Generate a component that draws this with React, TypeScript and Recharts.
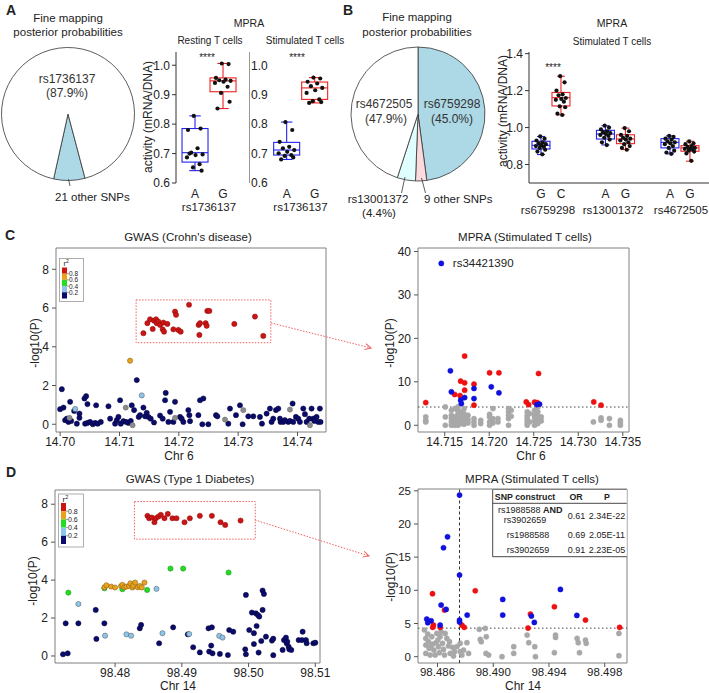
import React from "react";
import {
  ComposedChart,
  ScatterChart,
  PieChart,
  Pie,
  Cell,
  Bar,
  Scatter,
  XAxis,
  YAxis,
  ReferenceArea,
  ReferenceLine,
  LabelList,
} from "recharts";

const FONT = '"Liberation Sans", Arial, Helvetica, sans-serif';
const INK = "#222";

// ---------- A: fine mapping pie ----------
const PIE_A_NAMES = ["21 other SNPs", "rs1736137"];
const PIE_A_VALUES = [7.6, 92.4];
const PIE_A_COLORS = ["#add8e6", "#ffffff"];

// ---------- B: fine mapping pie (clockwise from 12 o'clock) ----------
const PIE_B_NAMES = ["rs6759298", "9 other SNPs", "rs13001372", "rs4672505"];
const PIE_B_VALUES = [47.9, 2.7, 4.4, 45.0];
const PIE_B_COLORS = ["#add8e6", "#fadadd", "#e0ffff", "#ffffff"];

// ---------- A: MPRA boxplots, stats = [min, q1, median, q3, max] ----------
const A_ALLELES = ["A", "G"];
const A_SNP = "rs1736137";
const A_REST_STATS_A = [0.642, 0.671, 0.703, 0.785, 0.828];
const A_REST_STATS_G = [0.853, 0.91, 0.947, 0.957, 1.006];
const A_REST_PTS_A = [0.828, 0.785, 0.78, 0.718, 0.703, 0.697, 0.695, 0.687, 0.664, 0.653, 0.642, 0.7];
const A_REST_PTS_G = [1.006, 1.004, 0.957, 0.951, 0.949, 0.947, 0.944, 0.94, 0.927, 0.906, 0.876, 0.853];
const A_STIM_STATS_A = [0.68, 0.695, 0.712, 0.738, 0.807];
const A_STIM_STATS_G = [0.872, 0.884, 0.923, 0.943, 0.958];
const A_STIM_PTS_A = [0.807, 0.78, 0.74, 0.723, 0.718, 0.712, 0.706, 0.701, 0.695, 0.692, 0.687, 0.68];
const A_STIM_PTS_G = [0.958, 0.955, 0.944, 0.938, 0.929, 0.923, 0.915, 0.906, 0.884, 0.878, 0.875, 0.872];

// ---------- B: MPRA boxplots ----------
const B_SNPS = ["rs6759298", "rs13001372", "rs4672505"];
const B_ALLELES = ["G", "C", "A", "G", "A", "G"];
const B_STATS = [
  [0.854, 0.884, 0.904, 0.926, 0.952],
  [1.069, 1.117, 1.162, 1.19, 1.278],
  [0.906, 0.938, 0.965, 0.985, 1.01],
  [0.881, 0.913, 0.938, 0.961, 0.997],
  [0.858, 0.89, 0.92, 0.94, 0.955],
  [0.818, 0.872, 0.89, 0.902, 0.926],
];
const B_PTS = [
  [0.952, 0.94, 0.93, 0.92, 0.915, 0.91, 0.905, 0.9, 0.895, 0.89, 0.88, 0.87, 0.855],
  [1.278, 1.245, 1.2, 1.18, 1.175, 1.16, 1.155, 1.15, 1.14, 1.115, 1.11, 1.075, 1.068],
  [1.01, 1.0, 0.99, 0.98, 0.975, 0.97, 0.965, 0.96, 0.955, 0.945, 0.935, 0.92, 0.905],
  [0.997, 0.98, 0.96, 0.955, 0.945, 0.94, 0.935, 0.93, 0.92, 0.91, 0.9, 0.89, 0.88],
  [0.955, 0.95, 0.94, 0.935, 0.925, 0.92, 0.915, 0.91, 0.9, 0.89, 0.875, 0.865, 0.858],
  [0.925, 0.915, 0.91, 0.9, 0.895, 0.89, 0.885, 0.885, 0.88, 0.875, 0.87, 0.86, 0.82],
];
const B_POS = [0.845, 1.155, 1.845, 2.155, 2.845, 3.155];

// horizontal jitter of the dots, as a fraction of box width
const JITTER = [-0.05, 0.22, -0.28, 0.1, -0.15, 0.3, 0.02, -0.32, 0.18, -0.08, 0.26, -0.22, 0.08];

// ---------- C: GWAS Crohn's disease (x = Mb on chr 6, y = -log10 P) ----------
const C_RED: [number, number][] = [
  [14.71403, 4.7], [14.7147, 5.22], [14.71515, 5.42], [14.7156, 4.92], [14.71582, 5.35], [14.71616, 5.42],
  [14.71627, 5.22], [14.71655, 5.3], [14.71684, 5.13], [14.71728, 4.9], [14.7174, 5.25], [14.71751, 4.78],
  [14.71807, 5.18], [14.71908, 4.9], [14.71936, 5.82], [14.71953, 5.65], [14.71992, 4.87], [14.72031, 4.78],
  [14.72172, 6.17], [14.72334, 5.13], [14.72346, 4.61], [14.72357, 5.22], [14.72452, 5.22], [14.72469, 5.08],
  [14.7248, 5.85], [14.72514, 5.85], [14.72935, 5.18], [14.73283, 5.56], [14.73423, 4.56],
];
const C_ORANGE: [number, number][] = [[14.71178, 3.28]];
const C_LIGHT: [number, number][] = [[14.71375, 1.49], [14.70253, 0.79]];
const C_GRAY: [number, number][] = [
  [14.70157, 0.33], [14.71105, 0.86], [14.7122, -0.05], [14.71936, 0.33], [14.72778, 0.24],
  [14.73086, 0.73], [14.73872, 0.76], [14.74209, -0.05],
];
const C_NAVY: [number, number][] = [
  [14.70028, 1.81], [14.7, 0.78], [14.70056, 0.86], [14.70084, 0.21], [14.70112, 0.29], [14.7014, 0.12],
  [14.70185, 0.17], [14.70168, 1.16], [14.70236, 0.69], [14.70281, 0.03], [14.70325, 0.33], [14.70325, 0.55],
  [14.7041, 1.33], [14.70438, 1.45], [14.7046, 1.04], [14.70421, 0.03], [14.7046, 0.07], [14.70505, 0.12],
  [14.7055, 0.0], [14.70589, 0.07], [14.70606, 0.98], [14.70634, 0.03], [14.70685, 0.12], [14.70814, 0.93],
  [14.70842, 0.29], [14.70926, 0.03], [14.70954, 0.21], [14.70982, 0.38], [14.7101, 1.24], [14.71021, 0.03],
  [14.71066, 0.16], [14.71111, 0.12], [14.7115, 0.07], [14.7119, 0.17], [14.71207, 0.98], [14.71246, 0.73],
  [14.71291, 2.28], [14.71324, 0.38], [14.71347, 0.47], [14.71403, 0.86], [14.71431, 0.41], [14.71459, 0.59],
  [14.71487, 0.38], [14.71526, 0.29], [14.71582, 0.09], [14.71684, 0.45], [14.71728, 0.29], [14.71768, 1.24],
  [14.71779, 1.62], [14.71824, 0.12], [14.71852, 0.64], [14.71908, 0.12], [14.71936, 1.16], [14.7202, 0.38],
  [14.72048, 0.29], [14.72076, 0.12], [14.7216, 0.73], [14.72177, 0.47], [14.72189, 0.16], [14.72357, 1.24],
  [14.72413, 1.33], [14.72329, 0.47], [14.72396, 0.0], [14.72497, 0.0], [14.72626, 0.47], [14.72649, 0.41],
  [14.72834, 0.03], [14.72862, 0.81], [14.72963, 0.47], [14.7303, 0.98], [14.73075, 0.0], [14.73171, 0.41],
  [14.73255, 0.41], [14.73367, 0.38], [14.73401, 0.03], [14.73479, 0.55], [14.73535, 0.81], [14.73563, 0.12],
  [14.73591, 0.29], [14.73636, 0.73], [14.73676, 0.81], [14.73704, 0.29], [14.73715, 0.12], [14.7376, 0.12],
  [14.73788, 0.21], [14.73844, 0.12], [14.73872, 0.17], [14.73917, 1.07], [14.73928, 0.12], [14.73973, 0.38],
  [14.74012, 0.29], [14.7404, 0.12], [14.74097, 0.81], [14.74125, 0.52], [14.74153, 0.12], [14.74198, 0.29],
  [14.74237, 0.81], [14.74265, 0.29], [14.74282, 0.17], [14.74321, 0.38], [14.74349, 0.12], [14.74377, 0.81],
  [14.74388, 0.12],
];

// ---------- C: MPRA stimulated T cells, chr 6 ----------
const CM_RED: [number, number][] = [
  [14.71287, 5.23], [14.71612, 7.08], [14.71672, 6.85], [14.71679, 10.15], [14.71724, 9.77], [14.71724, 8.08],
  [14.71724, 15.92], [14.71829, 9.46], [14.71829, 4.62], [14.72004, 12.08], [14.72109, 12.08], [14.72416, 5.38],
  [14.72442, 4.77], [14.72509, 5.31], [14.72539, 5.23], [14.72554, 11.92], [14.73174, 5.38], [14.73256, 4.62],
];
const CM_BLUE: [number, number][] = [
  [14.71564, 12.54], [14.71575, 7.69], [14.71679, 5.77], [14.71687, 5.0], [14.71724, 6.38], [14.71829, 8.46],
  [14.71829, 6.15], [14.72023, 8.85], [14.72109, 7.46], [14.72535, 4.77], [14.72565, 4.85],
];
const CM_TOP_SNP = "rs34421390";
const CM_TOP: [number, number] = [14.71724, 37.6];
const CM_GRAY: [number, number][] = [
  [14.71287, 1.92], [14.71287, 1.15], [14.71287, 0.77],
  [14.71507, 4.23], [14.71507, 1.92], [14.71507, 0.0],
  [14.71575, 3.46], [14.71575, 2.31], [14.71575, 1.54], [14.71575, 0.77], [14.71575, 0.0],
  [14.71612, 3.85], [14.71612, 1.92], [14.71612, 1.15], [14.71612, 0.38], [14.71612, 0.0],
  [14.71649, 4.23], [14.71649, 3.31], [14.71649, 2.54], [14.71649, 1.54], [14.71649, 0.77], [14.71649, 0.0],
  [14.71679, 3.08], [14.71679, 2.08], [14.71679, 1.15], [14.71679, 0.38],
  [14.71717, 3.85], [14.71717, 2.69], [14.71717, 1.77], [14.71717, 1.0], [14.71717, 0.23],
  [14.71762, 2.31], [14.71762, 1.31], [14.71762, 0.54],
  [14.71829, 1.54], [14.71829, 0.77], [14.71829, 0.0],
  [14.71904, 1.15], [14.71904, 0.38],
  [14.72004, 2.54], [14.72004, 1.92], [14.72004, 0.77], [14.72004, 0.0],
  [14.72042, 3.85], [14.72042, 1.54], [14.72042, 0.54],
  [14.72098, 1.54], [14.72098, 0.77],
  [14.72217, 3.85], [14.72217, 3.08], [14.72217, 2.31], [14.72217, 1.54], [14.72217, 0.0],
  [14.72247, 3.46], [14.72247, 2.08],
  [14.72427, 3.08], [14.72427, 2.31], [14.72427, 1.69], [14.72427, 1.15], [14.72427, 0.54], [14.72427, 0.0],
  [14.72453, 2.69], [14.72453, 0.77],
  [14.72509, 3.46], [14.72509, 2.54], [14.72509, 1.92], [14.72509, 1.0], [14.72509, 0.0],
  [14.72546, 4.23], [14.72546, 3.08], [14.72546, 2.08], [14.72546, 1.31], [14.72546, 0.38],
  [14.72584, 1.92], [14.72584, 1.0],
  [14.7317, 0.77], [14.73256, 1.69], [14.73256, 1.15], [14.7335, 1.54], [14.7335, 0.0],
  [14.73473, 1.15], [14.73473, 0.54], [14.73473, 0.0],
];

// ---------- D: GWAS type 1 diabetes, chr 14 ----------
const D_RED: [number, number][] = [
  [98.48485, 7.39], [98.4851, 7.26], [98.4855, 7.3], [98.4859, 7.05], [98.4861, 7.26], [98.4865, 7.35],
  [98.48685, 7.44], [98.4874, 7.26], [98.4879, 7.49], [98.4886, 7.26], [98.4892, 7.26], [98.4904, 7.05],
  [98.4912, 7.26], [98.4927, 7.39], [98.4945, 7.39], [98.4958, 7.05], [98.4965, 6.91], [98.4988, 7.14],
];
const D_ORANGE: [number, number][] = [
  [98.4784, 3.62], [98.4787, 3.73], [98.4794, 3.66], [98.48, 3.61], [98.4809, 3.69], [98.4811, 3.75],
  [98.4814, 3.62], [98.4817, 3.66], [98.4821, 3.69], [98.4823, 3.83], [98.4826, 3.61], [98.4827, 3.71],
  [98.483, 3.87], [98.4834, 3.62], [98.4837, 3.69], [98.484, 3.61], [98.4844, 3.87],
];
const D_GREEN: [number, number][] = [
  [98.473, 3.34], [98.4784, 3.57], [98.4811, 3.52], [98.4848, 3.48], [98.4883, 4.61], [98.4902, 4.61], [98.497, 4.4],
];
const D_LIGHT: [number, number][] = [
  [98.4745, 2.74], [98.4785, 1.07], [98.4817, 1.14], [98.4824, 1.07], [98.4862, 3.54], [98.4871, 1.2],
  [98.4911, 1.16], [98.4956, 1.06], [98.4961, 0.97],
];
const D_NAVY: [number, number][] = [
  [98.4722, 0.09], [98.4729, 0.14], [98.4726, 1.72], [98.4745, 1.72], [98.4771, 2.43], [98.4772, 0.9],
  [98.4784, 1.72], [98.4837, 1.46], [98.4839, 1.64], [98.4866, 0.67], [98.4887, 1.51], [98.4909, 1.14],
  [98.4917, 0.46], [98.4927, 0.19], [98.494, 1.46], [98.4945, 1.51], [98.4941, 0.23], [98.4944, 0.55],
  [98.4946, 0.14], [98.4957, 0.11], [98.4969, 0.05], [98.4971, 1.37], [98.4977, 1.28], [98.4996, 3.22],
  [98.4995, 0.35], [98.4996, 0.09], [98.5001, 1.37], [98.5005, 2.29], [98.5008, 1.2], [98.5008, 0.63],
  [98.5011, 2.25], [98.5014, 2.16], [98.5016, 2.08], [98.5012, 1.58], [98.5015, 0.18], [98.5019, 0.79],
  [98.5021, 2.43], [98.5021, 3.45], [98.5023, 3.27], [98.5026, 1.02], [98.5035, 0.81], [98.5037, 0.91],
  [98.5037, 0.04], [98.5051, 0.32], [98.5053, 0.84], [98.5056, 0.97], [98.5057, 0.67], [98.5058, 0.76],
  [98.506, 0.49], [98.5061, 0.35], [98.5064, 0.32], [98.5075, 0.84], [98.508, 0.84], [98.5081, 1.28],
  [98.5086, 0.84], [98.5087, 0.67], [98.5097, 0.67], [98.51, 0.7],
];

// ---------- D: MPRA stimulated T cells, chr 14 ----------
const DM_BLUE: [number, number][] = [
  [98.48758, 24.35], [98.48672, 18.07], [98.48643, 16.42], [98.48758, 12.3], [98.48626, 7.78], [98.48662, 7.13],
  [98.48523, 5.67], [98.48554, 5.42], [98.4853, 5.12], [98.48619, 4.77], [98.48758, 5.52], [98.48758, 5.22],
  [98.48813, 6.27], [98.49068, 8.63], [98.49068, 6.27], [98.49274, 6.12], [98.49295, 5.17], [98.49482, 10.14],
  [98.496, 6.22],
];
const DM_RED: [number, number][] = [
  [98.48564, 9.49], [98.48871, 9.94], [98.4865, 7.03], [98.48571, 4.77], [98.48566, 4.42], [98.48619, 4.42],
  [98.48775, 4.77], [98.48792, 4.42], [98.49267, 6.43], [98.4925, 4.32], [98.49439, 7.53], [98.49662, 5.52],
  [98.49907, 4.42],
];
const DM_GRAY: [number, number][] = [
  [98.48506, 4.02], [98.48516, 2.76], [98.48516, 1.76], [98.48516, 0.5], [98.48535, 2.26], [98.4854, 1.26],
  [98.48547, 0.25], [98.48559, 3.01], [98.48566, 1.91], [98.48574, 1.0], [98.48583, 0.25], [98.48595, 3.51],
  [98.48602, 2.51], [98.48607, 1.51], [98.48614, 0.6], [98.48626, 3.77], [98.48636, 2.01], [98.48643, 1.1],
  [98.4865, 0.25], [98.48667, 2.76], [98.48679, 1.61], [98.48691, 0.5], [98.48708, 1.41], [98.48722, 0.75],
  [98.4853, 3.41], [98.48554, 1.61], [98.4859, 2.11], [98.48619, 3.01], [98.48655, 3.51], [98.48686, 2.26],
  [98.48715, 0.1], [98.48739, 1.51], [98.48787, 1.0],
  [98.48763, 2.01], [98.48763, 0.75], [98.48775, 0.25], [98.48811, 2.11], [98.48823, 0.5], [98.489, 4.12],
  [98.48907, 2.61], [98.48914, 2.26], [98.48943, 4.27], [98.4895, 3.01], [98.48948, 0.5], [98.48967, 0.25],
  [98.49063, 0.0], [98.49147, 1.51], [98.49147, 0.5], [98.49243, 3.26], [98.49255, 2.11], [98.49298, 1.51],
  [98.49303, 0.0], [98.49447, 3.26], [98.49447, 2.91], [98.49439, 0.6], [98.49602, 2.76], [98.4961, 2.11],
  [98.49662, 2.51], [98.49667, 2.01], [98.49619, 0.6], [98.49902, 3.51], [98.49902, 0.15],
];

const TABLE_HEAD = ["SNP construct", "OR", "P"];
const TABLE_OR = ["0.61", "0.69", "0.91"];
const TABLE_P = ["2.34E-22", "2.05E-11", "2.23E-05"];

// ---------- colours ----------
const BOX_BLUE = "#2222ee";
const BOX_RED = "#ee2222";
const NAVY = "#0b0b6b";
const G_RED = "#cc1414";
const ORANGE = "#e8a21f";
const GREEN = "#22dd22";
const LIGHT = "#8cc4ea";
const GRAY = "#8c8c8c";
const M_RED = "#ee1111";
const M_BLUE = "#1111dd";
const M_GRAY = "#a8a8a8";

const blackDot = (p: any) => <circle cx={p.cx} cy={p.cy} r={2.1} fill="#111" />;

const dot = (fill: string, stroke: string, r = 2.6) => (p: any) =>
  <circle cx={p.cx} cy={p.cy} r={r} fill={fill} stroke={stroke} strokeWidth={0.5} />;

// whiskers, box and median drawn around the [min, max] range bar
const makeBoxShape = (boxW: number) => (props: any) => {
  const { x, y, width, height, payload } = props;
  const [lo, q1, med, q3, hi] = payload.stats;
  const top = Math.min(y, y + height);
  const k = Math.abs(height) / (hi - lo);
  const py = (v: number) => top + (hi - v) * k;
  const cx = x + width / 2;
  const bx = cx - boxW / 2;
  const cap = boxW * 0.22;
  const c = payload.color;
  return (
    <g stroke={c} strokeWidth={1.1}>
      <line x1={cx} x2={cx} y1={py(hi)} y2={py(q3)} />
      <line x1={cx} x2={cx} y1={py(q1)} y2={py(lo)} />
      <line x1={cx - cap} x2={cx + cap} y1={py(hi)} y2={py(hi)} />
      <line x1={cx - cap} x2={cx + cap} y1={py(lo)} y2={py(lo)} />
      <rect x={bx} y={py(q3)} width={boxW} height={py(q1) - py(q3)} fill="#fff" />
      <line x1={bx} x2={bx + boxW} y1={py(med)} y2={py(med)} />
    </g>
  );
};

type Box = { pos: number; stats: number[]; color: string; pts: number[] };

const PAD_TOP = 8;

function BoxPanel(p: {
  left: number; top: number; width: number; plotH: number; yW: number;
  boxes: Box[]; xDomain: [number, number]; yDomain: [number, number]; yTicks: number[];
  alleleTicks: number[]; alleleLabels: string[];
  boxW: number; jitter: number; mirror?: boolean; xLine?: boolean;
}) {
  const rows = p.boxes.map((b) => ({ pos: b.pos, range: [b.stats[0], b.stats[4]], stats: b.stats, color: b.color }));
  const pts = p.boxes.flatMap((b) =>
    b.pts.map((v, i) => ({ pos: b.pos + JITTER[i % JITTER.length] * p.jitter, val: v }))
  );
  return (
    <div style={{ position: "absolute", left: p.left, top: p.top - PAD_TOP }}>
      <ComposedChart
        width={p.width} height={p.plotH + PAD_TOP + 20} data={rows}
        margin={{ top: PAD_TOP, right: 0, bottom: 0, left: 0 }}
      >
        <XAxis
          type="number" dataKey="pos" domain={p.xDomain} allowDataOverflow
          ticks={p.alleleTicks} interval={0} tickFormatter={(_: any, i: number) => p.alleleLabels[i]}
          axisLine={p.xLine ? { stroke: "#333" } : false} tickLine={false} tickSize={4} tickMargin={2}
          height={20} tick={{ fontSize: 12, fill: INK, fontFamily: FONT }}
        />
        <YAxis
          type="number" domain={p.yDomain} allowDataOverflow ticks={p.yTicks} interval={0}
          tickFormatter={(v: number) => v.toFixed(1)} width={p.yW} mirror={p.mirror}
          axisLine={{ stroke: "#333" }} tickLine={p.mirror ? false : { stroke: "#333" }}
          tickSize={p.mirror ? 0 : 4} tickMargin={2} tick={{ fontSize: 12, fill: INK, fontFamily: FONT }}
        />
        <Bar dataKey="range" barSize={p.boxW} shape={makeBoxShape(p.boxW)} isAnimationActive={false} />
        <Scatter data={pts} dataKey="val" shape={blackDot} isAnimationActive={false} />
      </ComposedChart>
    </div>
  );
}

type Series = { pts: [number, number][]; fill: string; stroke: string };

const SC_MARGIN = { top: PAD_TOP, right: 16, bottom: 0, left: 0 };

function ScatterPanel(p: {
  left: number; top: number; width: number; height: number;
  xDomain: [number, number]; yDomain: [number, number]; xTicks: number[]; yTicks: number[];
  xDec: number; fs: number; series: Series[]; extra?: React.ReactNode[];
}) {
  return (
    <div style={{ position: "absolute", left: p.left, top: p.top - PAD_TOP }}>
      <ScatterChart width={p.width + 16} height={p.height + PAD_TOP} margin={SC_MARGIN}>
        <XAxis
          type="number" dataKey="x" domain={p.xDomain} allowDataOverflow ticks={p.xTicks} interval={0}
          tickFormatter={(v: number) => v.toFixed(p.xDec)} axisLine={false} tickLine={{ stroke: "#555" }}
          tickSize={4} tickMargin={1} height={20} tick={{ fontSize: p.fs, fill: INK, fontFamily: FONT }}
        />
        <YAxis
          type="number" dataKey="y" domain={p.yDomain} allowDataOverflow ticks={p.yTicks} interval={0}
          axisLine={false} tickLine={{ stroke: "#555" }} tickSize={4} tickMargin={3} width={30}
          tick={{ fontSize: p.fs, fill: INK, fontFamily: FONT }}
        />
        <ReferenceArea
          x1={p.xDomain[0]} x2={p.xDomain[1]} y1={p.yDomain[0]} y2={p.yDomain[1]}
          fill="none" stroke="#808080" strokeWidth={1} ifOverflow="visible"
        />
        {p.extra}
        {p.series.map((s, i) => (
          <Scatter
            key={i}
            data={s.pts.map(([x, y]) => ({ x, y }))}
            shape={dot(s.fill, s.stroke)}
            isAnimationActive={false}
          />
        ))}
      </ScatterChart>
    </div>
  );
}

function T(props: {
  x: number; y: number; s?: number; a?: "start" | "middle" | "end"; b?: boolean; r?: boolean; c?: string;
  children: React.ReactNode;
}) {
  const { x, y, s = 11.5, a = "middle", b, r, c = INK } = props;
  return (
    <text
      x={x} y={y} fontSize={s} textAnchor={a} dominantBaseline="central" fontWeight={b ? "bold" : "normal"}
      fill={c} fontFamily={FONT} transform={r ? `rotate(-90 ${x} ${y})` : undefined}
    >
      {props.children}
    </text>
  );
}

const R2_COLORS = [G_RED, ORANGE, GREEN, LIGHT, NAVY];
const R2_LABELS = ["0.8", "0.6", "0.4", "0.2"];

function R2Legend({ x, y, w, h, sq, fs }: { x: number; y: number; w: number; h: number; sq: number; fs: number }) {
  const y0 = y + h - 5 * sq - 3;
  return (
    <g>
      <rect x={x} y={y} width={w} height={h} fill="#fff" stroke="#999" strokeWidth={0.8} />
      <text x={x + 4} y={y0 - 1.5} fontSize={fs + 1} fontFamily={FONT} fill={INK}>
        r<tspan dy={-3} fontSize={fs - 1.5}>2</tspan>
      </text>
      {R2_COLORS.map((c, i) => (
        <rect key={c} x={x + 2.5} y={y0 + i * sq} width={5} height={sq} fill={c} />
      ))}
      {R2_LABELS.map((l, i) => (
        <g key={l}>
          <line x1={x + 7.5} x2={x + 9.5} y1={y0 + (i + 1) * sq} y2={y0 + (i + 1) * sq} stroke="#555" strokeWidth={0.6} />
          <T x={x + 9.5} y={y0 + (i + 1) * sq} s={fs} a="start">{l}</T>
        </g>
      ))}
    </g>
  );
}

function Overlay() {
  return (
    <svg width={709} height={693} style={{ position: "absolute", left: 0, top: 0, pointerEvents: "none" }}>
      <defs>
        <marker id="ah" markerWidth="7" markerHeight="7" refX="6" refY="3.5" orient="auto">
          <path d="M0,0.5 L6,3.5 L0,6.5" fill="none" stroke="#f06060" strokeWidth={1} />
        </marker>
      </defs>
      {/* panel letters */}
      <T x={11} y={10} s={14} b>A</T>
      <T x={348} y={10} s={14} b>B</T>
      <T x={10} y={235} s={14} b>C</T>
      <T x={11} y={472} s={14} b>D</T>

      {/* A pie */}
      <T x={68} y={18} s={11.5}>Fine mapping</T>
      <T x={68} y={32} s={11.5}>posterior probabilities</T>
      <T x={67} y={79} s={12} c="#333">rs1736137</T>
      <T x={67} y={93} s={12} c="#333">(87.9%)</T>
      <line x1={68.5} y1={179} x2={70} y2={186} stroke="#333" strokeWidth={0.8} />
      <T x={55} y={197} s={11.5} a="start">21 other SNPs</T>

      {/* A boxplots */}
      <T x={249} y={23} s={10.5}>MPRA</T>
      <T x={210} y={40} s={10}>Resting T cells</T>
      <T x={305} y={40} s={10}>Stimulated T cells</T>
      <text x={207} y={60.5} fontSize={10} textAnchor="middle" fontFamily={FONT} fill={INK}>****</text>
      <text x={297} y={60.5} fontSize={10} textAnchor="middle" fontFamily={FONT} fill={INK}>****</text>
      <T x={148} y={117} s={12} r>activity (mRNA/DNA)</T>
      <T x={209} y={207} s={11.5}>{A_SNP}</T>
      <T x={300.5} y={207} s={11.5}>{A_SNP}</T>

      {/* B pie */}
      <T x={417} y={17} s={11.5}>Fine mapping</T>
      <T x={417} y={32} s={11.5}>posterior probabilities</T>
      <T x={384} y={104} s={12} c="#333">rs4672505</T>
      <T x={386} y={119} s={12} c="#333">(47.9%)</T>
      <T x={452} y={104} s={12} c="#333">rs6759298</T>
      <T x={452} y={119} s={12} c="#333">(45.0%)</T>
      <line x1={405} y1={177} x2={401.5} y2={193} stroke="#333" strokeWidth={0.8} />
      <line x1={421.5} y1={178} x2={425.5} y2={193} stroke="#333" strokeWidth={0.8} />
      <T x={378} y={199} s={11.5}>rs13001372</T>
      <T x={379} y={212.5} s={11.5}>(4.4%)</T>
      <T x={424} y={199} s={11.5} a="start">9 other SNPs</T>

      {/* B boxplot */}
      <T x={612} y={23} s={10.5}>MPRA</T>
      <T x={612} y={41} s={10}>Stimulated T cells</T>
      <text x={553} y={70.5} fontSize={10} textAnchor="middle" fontFamily={FONT} fill={INK}>****</text>
      <T x={503} y={111} s={12} r>activity (mRNA/DNA)</T>
      <T x={548} y={209.5} s={11.5}>{B_SNPS[0]}</T>
      <T x={613} y={209.5} s={11.5}>{B_SNPS[1]}</T>
      <T x={681} y={209.5} s={11.5}>{B_SNPS[2]}</T>

      {/* C */}
      <T x={188} y={237} s={11.5}>GWAS (Crohn's disease)</T>
      <T x={525} y={237} s={11.5}>MPRA (Stimulated T cells)</T>
      <T x={35} y={343} s={12} r>-log10(P)</T>
      <T x={390} y={343} s={12} r>-log10(P)</T>
      <T x={179} y={455.5} s={12}>Chr 6</T>
      <T x={531} y={455.5} s={12}>Chr 6</T>
      <R2Legend x={59.5} y={258.5} w={24} h={43} sq={6.2} fs={6.5} />
      <line x1={271} y1={323} x2={371} y2={348} stroke="#f06060" strokeWidth={1} strokeDasharray="1.5 1.5" markerEnd="url(#ah)" />

      {/* D */}
      <T x={190} y={479} s={11.5}>GWAS (Type 1 Diabetes)</T>
      <T x={532} y={479} s={11.5}>MPRA (Stimulated T cells)</T>
      <T x={33} y={581} s={12} r>-log10(P)</T>
      <T x={391} y={577} s={12} r>-log10(P)</T>
      <T x={178} y={685.5} s={12}>Chr 14</T>
      <T x={523} y={685.5} s={12}>Chr 14</T>
      <R2Legend x={58.5} y={494} w={25} h={53} sq={8.2} fs={7} />
      <line x1={255} y1={520} x2={369} y2={556} stroke="#f06060" strokeWidth={1} strokeDasharray="1.5 1.5" markerEnd="url(#ah)" />

      {/* D table */}
      <g>
        <rect x={492.7} y={489.5} width={134} height={67} fill="#fff" stroke="none" />
        <line x1={492.7} y1={489.5} x2={492.7} y2={556.7} stroke="#333" strokeWidth={0.9} />
        <line x1={492.7} y1={556.7} x2={626.7} y2={556.7} stroke="#333" strokeWidth={0.9} />
        <line x1={492.7} y1={503.3} x2={626.7} y2={503.3} stroke="#333" strokeWidth={0.9} />
        <line x1={492.7} y1={489.5} x2={626.7} y2={489.5} stroke="#808080" strokeWidth={1} />
        <T x={525} y={496.5} s={8.8} b>{TABLE_HEAD[0]}</T>
        <T x={576} y={496.5} s={8.8} b>{TABLE_HEAD[1]}</T>
        <T x={607} y={496.5} s={8.8} b>{TABLE_HEAD[2]}</T>
        <text x={498} y={509.5} fontSize={9} dominantBaseline="central" fontFamily={FONT} fill={INK}>
          rs1988588 <tspan fontWeight="bold">AND</tspan>
        </text>
        <T x={525} y={520} s={9}>rs3902659</T>
        <T x={528} y={534.5} s={9}>rs1988588</T>
        <T x={528} y={549.5} s={9}>rs3902659</T>
        {TABLE_OR.map((v, i) => (
          <T key={v} x={576.5} y={[516, 534.5, 549.5][i]} s={9}>{v}</T>
        ))}
        {TABLE_P.map((v, i) => (
          <T key={v} x={607} y={[516, 534.5, 549.5][i]} s={9}>{v}</T>
        ))}
      </g>
    </svg>
  );
}

export default function App() {
  const pieA = PIE_A_VALUES.map((v, i) => ({ name: PIE_A_NAMES[i], value: v }));
  const pieB = PIE_B_VALUES.map((v, i) => ({ name: PIE_B_NAMES[i], value: v }));

  const restBoxes: Box[] = [
    { pos: 1, stats: A_REST_STATS_A, color: BOX_BLUE, pts: A_REST_PTS_A },
    { pos: 2, stats: A_REST_STATS_G, color: BOX_RED, pts: A_REST_PTS_G },
  ];
  const stimBoxes: Box[] = [
    { pos: 1, stats: A_STIM_STATS_A, color: BOX_BLUE, pts: A_STIM_PTS_A },
    { pos: 2, stats: A_STIM_STATS_G, color: BOX_RED, pts: A_STIM_PTS_G },
  ];
  const bBoxes: Box[] = B_POS.map((pos, i) => ({
    pos,
    stats: B_STATS[i],
    color: i % 2 === 0 ? BOX_BLUE : BOX_RED,
    pts: B_PTS[i],
  }));

  return (
    <div
      style={{
        position: "absolute", left: 0, top: 0, width: 709, height: 693,
        background: "#fff", overflow: "hidden", fontFamily: FONT,
      }}
    >
      <div style={{ position: "absolute", left: -2, top: 44 }}>
        <PieChart width={140} height={140} margin={{ top: 0, right: 0, bottom: 0, left: 0 }}>
          <Pie
            data={pieA} dataKey="value" cx={70} cy={70} outerRadius={66.5}
            startAngle={257.5} endAngle={617.5} stroke="#333" strokeWidth={0.8} isAnimationActive={false}
          >
            {pieA.map((d, i) => <Cell key={d.name} fill={PIE_A_COLORS[i]} />)}
          </Pie>
        </PieChart>
      </div>

      <BoxPanel
        left={140} top={52} width={100} plotH={131} yW={36}
        boxes={restBoxes} xDomain={[0.32, 2.6057]} yDomain={[0.6, 1.045]} yTicks={[0.6, 0.7, 0.8, 0.9, 1.0]}
        alleleTicks={[1, 2]} alleleLabels={A_ALLELES} boxW={26} jitter={0.9}
      />
      <BoxPanel
        left={249} top={52} width={84} plotH={131} yW={30} mirror
        boxes={stimBoxes} xDomain={[-0.346, 2.654]} yDomain={[0.6, 1.045]} yTicks={[0.6, 0.7, 0.8, 0.9, 1.0]}
        alleleTicks={[1, 2]} alleleLabels={A_ALLELES} boxW={26} jitter={0.9}
      />

      <div style={{ position: "absolute", left: 347.5, top: 44 }}>
        <PieChart width={140} height={140} margin={{ top: 0, right: 0, bottom: 0, left: 0 }}>
          <Pie
            data={pieB} dataKey="value" cx={70} cy={70} outerRadius={67}
            startAngle={90} endAngle={-270} stroke="#333" strokeWidth={0.8} isAnimationActive={false}
          >
            {pieB.map((d, i) => <Cell key={d.name} fill={PIE_B_COLORS[i]} />)}
          </Pie>
        </PieChart>
      </div>

      <BoxPanel
        left={499} top={52} width={210} plotH={131} yW={30} xLine
        boxes={bBoxes} xDomain={[0.659, 3.45]} yDomain={[0.7, 1.409]} yTicks={[0.8, 1.0, 1.2, 1.4]}
        alleleTicks={B_POS} alleleLabels={B_ALLELES} boxW={18} jitter={0.25}
      />

      <ScatterPanel
        left={26} top={248} width={300} height={204}
        xDomain={[14.6993, 14.7448]} yDomain={[-0.4, 9.1]}
        xTicks={[14.7, 14.71, 14.72, 14.73, 14.74]} yTicks={[0, 2, 4, 6, 8]} xDec={2} fs={12}
        extra={[
          <ReferenceArea key="box" x1={14.7128} x2={14.7355} y1={4.21} y2={6.42} fill="none"
            stroke="#f06060" strokeDasharray="1.5 1.5" strokeWidth={1} ifOverflow="visible" />,
        ]}
        series={[
          { pts: C_NAVY, fill: NAVY, stroke: "#05053a" },
          { pts: C_GRAY, fill: GRAY, stroke: "#666" },
          { pts: C_LIGHT, fill: LIGHT, stroke: "#555" },
          { pts: C_ORANGE, fill: ORANGE, stroke: "#7a5a10" },
          { pts: C_RED, fill: G_RED, stroke: "#8a0a0a" },
        ]}
      />

      <ScatterPanel
        left={388} top={248} width={241} height={204}
        xDomain={[14.712, 14.7357]} yDomain={[-1.55, 40.8]}
        xTicks={[14.715, 14.72, 14.725, 14.73, 14.735]} yTicks={[0, 10, 20, 30, 40]} xDec={3} fs={12}
        extra={[
          <ReferenceLine key="thr" y={4.2} stroke="#444" strokeDasharray="1.5 2.5" strokeWidth={1} />,
        ]}
        series={[
          { pts: CM_GRAY, fill: M_GRAY, stroke: M_GRAY },
          { pts: CM_RED, fill: M_RED, stroke: M_RED },
          { pts: CM_BLUE, fill: M_BLUE, stroke: M_BLUE },
        ]}
      />
      <div style={{ position: "absolute", left: 388, top: 248 - PAD_TOP }}>
        <ScatterChart width={241 + 16} height={204 + PAD_TOP} margin={SC_MARGIN}>
          <XAxis type="number" dataKey="x" domain={[14.712, 14.7357]} allowDataOverflow hide height={20} />
          <YAxis type="number" dataKey="y" domain={[-1.55, 40.8]} allowDataOverflow hide width={30} />
          <Scatter
            data={[{ x: CM_TOP[0], y: CM_TOP[1], name: CM_TOP_SNP }]}
            shape={dot(M_BLUE, M_BLUE)} isAnimationActive={false}
          >
            <LabelList dataKey="name" position="right" offset={7} style={{ fontSize: 11.5, fill: INK, fontFamily: FONT }} />
          </Scatter>
        </ScatterChart>
      </div>

      <ScatterPanel
        left={25} top={490} width={295} height={193}
        xDomain={[98.471, 98.5107]} yDomain={[-0.37, 8.75]}
        xTicks={[98.48, 98.49, 98.5, 98.51]} yTicks={[0, 2, 4, 6, 8]} xDec={2} fs={12}
        extra={[
          <ReferenceArea key="box" x1={98.4829} x2={98.501} y1={6.16} y2={8.14} fill="none"
            stroke="#f06060" strokeDasharray="1.5 1.5" strokeWidth={1} ifOverflow="visible" />,
        ]}
        series={[
          { pts: D_NAVY, fill: NAVY, stroke: "#05053a" },
          { pts: D_LIGHT, fill: LIGHT, stroke: "#555" },
          { pts: D_GREEN, fill: GREEN, stroke: "#188a18" },
          { pts: D_ORANGE, fill: ORANGE, stroke: "#7a5a10" },
          { pts: D_RED, fill: G_RED, stroke: "#8a0a0a" },
        ]}
      />

      <ScatterPanel
        left={388} top={489} width={239} height={194}
        xDomain={[98.4846, 98.4996]} yDomain={[-0.95, 25.27]}
        xTicks={[98.486, 98.49, 98.494, 98.498]} yTicks={[0, 5, 10, 15, 20, 25]} xDec={3} fs={11.5}
        extra={[
          <ReferenceLine key="thr" y={4.3} stroke="#444" strokeDasharray="1.5 2.5" strokeWidth={1} />,
          <ReferenceLine key="snp" x={98.48758} stroke="#333" strokeDasharray="3 2.5" strokeWidth={1} />,
        ]}
        series={[
          { pts: DM_GRAY, fill: M_GRAY, stroke: M_GRAY },
          { pts: DM_RED, fill: M_RED, stroke: M_RED },
          { pts: DM_BLUE, fill: M_BLUE, stroke: M_BLUE },
        ]}
      />

      <Overlay />
    </div>
  );
}
